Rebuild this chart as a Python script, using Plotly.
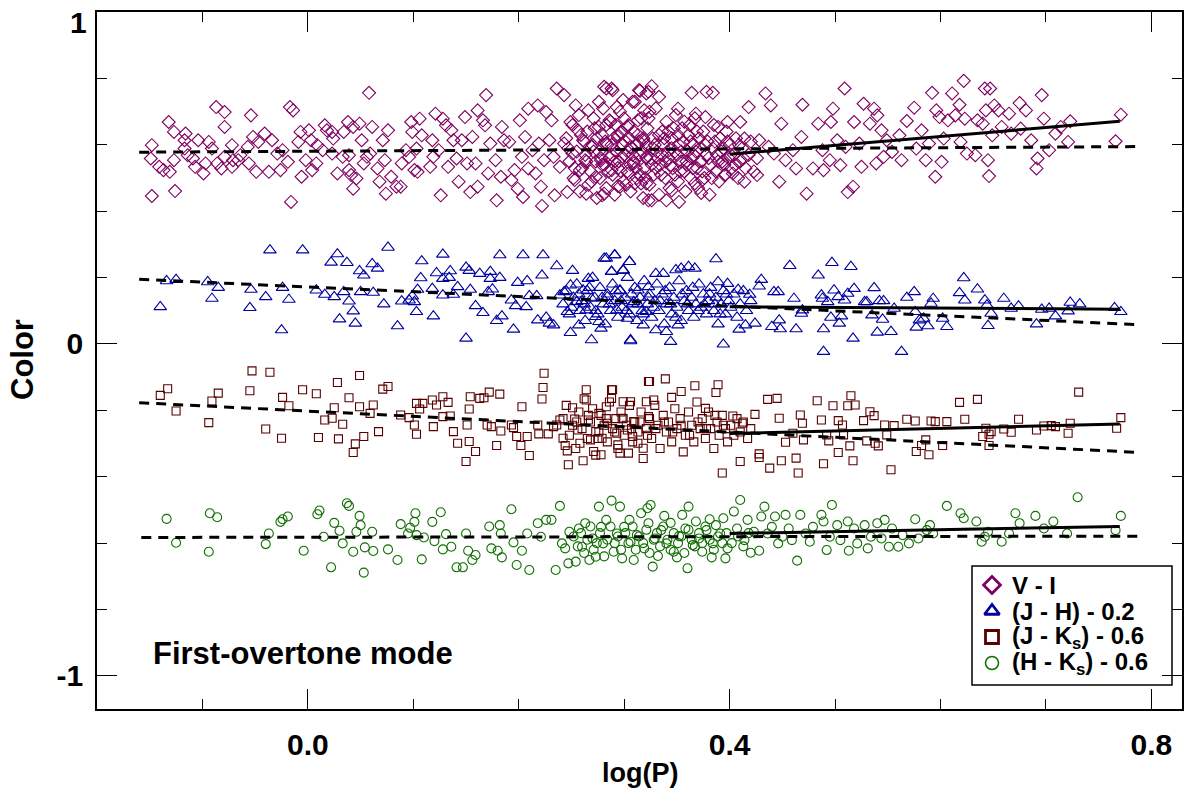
import plotly.graph_objects as go

# ---------------- data (log P, colour) ----------------
VI_PTS = [
(-0.148,0.599),(-0.149,0.559),(-0.148,0.446),(-0.141,0.534),(-0.137,0.524),(-0.132,0.669),(-0.131,0.519),(-0.127,0.639),(-0.126,0.461),(-0.127,0.554),
(-0.117,0.614),(-0.116,0.634),(-0.117,0.589),(-0.114,0.569),(-0.109,0.559),(-0.107,0.534),(-0.104,0.614),(-0.099,0.514),(-0.097,0.544),(-0.094,0.609),
(-0.091,0.589),(-0.087,0.714),(-0.086,0.544),(-0.082,0.529),(-0.079,0.699),(-0.079,0.654),(-0.079,0.564),(-0.072,0.599),(-0.072,0.534),(-0.071,0.554),
(-0.066,0.554),(-0.064,0.569),(-0.057,0.594),(-0.056,0.544),(-0.054,0.689),(-0.052,0.624),(-0.049,0.519),(-0.047,0.609),(-0.041,0.634),(-0.037,0.519),
(-0.034,0.614),(-0.029,0.574),(-0.026,0.524),(-0.024,0.584),(-0.019,0.549),(-0.017,0.714),(-0.016,0.428),(-0.014,0.704),(-0.009,0.609),(-0.007,0.639),
(-0.006,0.504),(-0.002,0.554),(0.001,0.644),(0.003,0.614),(0.004,0.524),(0.008,0.544),(0.009,0.599),(0.014,0.584),(0.016,0.659),(0.018,0.644),
(0.023,0.639),(0.023,0.574),(0.024,0.619),(0.028,0.514),(0.033,0.564),(0.034,0.639),(0.038,0.669),(0.039,0.569),(0.039,0.524),(0.041,0.509),
(0.043,0.468),(0.043,0.654),(0.046,0.499),(0.049,0.664),(0.051,0.614),(0.053,0.544),(0.056,0.564),(0.058,0.757),(0.059,0.574),(0.061,0.654),
(0.066,0.529),(0.068,0.489),(0.071,0.614),(0.073,0.554),(0.074,0.453),(0.076,0.644),(0.079,0.504),(0.084,0.474),(0.088,0.474),(0.089,0.544),
(0.093,0.584),(0.096,0.564),(0.098,0.669),(0.099,0.639),(0.101,0.524),(0.103,0.589),(0.104,0.519),(0.106,0.679),(0.108,0.629),(0.116,0.534),
(0.118,0.614),(0.119,0.564),(0.121,0.694),(0.124,0.584),(0.126,0.448),(0.128,0.679),(0.131,0.659),(0.133,0.534),(0.136,0.644),(0.138,0.614),
(0.141,0.559),(0.143,0.489),(0.146,0.614),(0.149,0.684),(0.151,0.544),(0.154,0.458),(0.156,0.624),(0.159,0.544),(0.161,0.704),(0.161,0.474),
(0.166,0.674),(0.168,0.659),(0.169,0.750),(0.171,0.514),(0.173,0.604),(0.178,0.554),(0.179,0.433),(0.183,0.504),(0.184,0.654),(0.186,0.614),
(0.191,0.609),(0.193,0.494),(0.196,0.524),(0.199,0.468),(0.201,0.674),(0.203,0.564),(0.204,0.443),(0.206,0.624),(0.209,0.709),(0.209,0.529),
(0.213,0.584),(0.216,0.514),(0.218,0.719),(0.219,0.604),(0.221,0.474),(0.222,0.416),(0.224,0.554),(0.226,0.699),(0.229,0.614),(0.231,0.674),
(0.233,0.564),(0.234,0.448),(0.236,0.770),(0.239,0.534),(0.243,0.750),(0.243,0.604),(0.246,0.458),(0.249,0.669),(0.251,0.574),(0.253,0.494),
(0.254,0.719),(0.256,0.644),(0.258,0.524),(0.261,0.614),(0.263,0.554),(0.264,0.453),(0.266,0.704),(0.269,0.594),(0.273,0.504),(0.276,0.730),
(0.276,0.654),(0.278,0.554),(0.279,0.448),(0.283,0.770),(0.283,0.604),(0.286,0.674),(0.288,0.524),(0.289,0.765),(0.293,0.714),(0.294,0.624),
(0.296,0.474),(0.298,0.564),(0.299,0.735),(0.303,0.654),(0.304,0.514),(0.306,0.594),(0.308,0.730),(0.309,0.544),(0.313,0.674),(0.314,0.765),
(0.316,0.484),(0.318,0.614),(0.319,0.704),(0.321,0.564),(0.323,0.760),(0.323,0.433),
(0.418,0.714),(0.434,0.755),(0.439,0.719),(0.449,0.664),(0.447,0.489),(0.428,0.614),(0.437,0.594),(0.442,0.574),(0.453,0.554),(0.460,0.584),
(0.463,0.529),(0.468,0.624),(0.469,0.721),(0.473,0.453),(0.479,0.529),(0.484,0.664),(0.488,0.584),(0.489,0.524),(0.495,0.554),(0.496,0.669),
(0.498,0.709),(0.502,0.614),(0.505,0.539),(0.509,0.770),(0.510,0.594),(0.512,0.458),(0.517,0.474),(0.518,0.669),(0.523,0.604),(0.525,0.534),
(0.527,0.724),(0.533,0.664),(0.537,0.709),(0.539,0.544),(0.540,0.689),(0.544,0.644),(0.546,0.564),(0.549,0.614),(0.554,0.579),(0.561,0.629),
(0.563,0.554),(0.568,0.672),(0.575,0.712),(0.577,0.589),(0.582,0.644),(0.586,0.554),(0.589,0.604),(0.592,0.757),(0.595,0.504),(0.596,0.704),
(0.599,0.684),(0.601,0.549),(0.603,0.619),(0.607,0.674),(0.611,0.755),(0.614,0.689),(0.618,0.721),(0.619,0.609),(0.622,0.793),(0.623,0.679),
(0.625,0.574),(0.633,0.569),(0.635,0.674),(0.640,0.664),(0.642,0.770),(0.643,0.704),(0.645,0.554),(0.646,0.506),(0.647,0.770),(0.649,0.629),
(0.651,0.719),(0.655,0.704),(0.658,0.654),(0.665,0.694),(0.667,0.634),(0.675,0.726),(0.676,0.649),(0.681,0.704),(0.686,0.614),(0.691,0.529),
(0.692,0.559),(0.696,0.750),(0.698,0.679),(0.703,0.584),(0.709,0.634),(0.714,0.654),(0.721,0.609),(0.723,0.671),(0.766,0.611),(0.771,0.691),
(0.326,0.433),(0.340,0.433),(0.352,0.428),(0.345,0.463),(0.373,0.455),(0.364,0.757),(0.378,0.760),(0.384,0.757),(0.315,0.763),(0.326,0.777),
(0.288,0.770),(0.281,0.775),(0.321,0.755),(0.333,0.745),(0.351,0.709),(0.368,0.694),(0.377,0.684),(0.389,0.654),(0.398,0.669),(0.410,0.669),
(0.414,0.619),(0.403,0.514),(0.414,0.489),(0.426,0.509),(0.395,0.509),(0.374,0.494),(0.367,0.484),(0.294,0.476),(0.281,0.453),(0.310,0.484),
(0.321,0.484),
(0.245,0.62),(0.248,0.55),(0.251,0.66),(0.252,0.5),(0.255,0.58),(0.257,0.69),(0.258,0.46),(0.26,0.53),(0.262,0.61),(0.263,0.57),
(0.265,0.64),(0.266,0.48),(0.268,0.52),(0.27,0.6),(0.271,0.68),(0.273,0.55),(0.274,0.44),(0.276,0.58),(0.277,0.5),(0.279,0.63),
(0.28,0.71),(0.281,0.54),(0.283,0.47),(0.284,0.6),(0.286,0.56),(0.287,0.67),(0.289,0.51),(0.29,0.62),(0.291,0.45),(0.293,0.58),
(0.294,0.53),(0.296,0.7),(0.297,0.64),(0.299,0.49),(0.3,0.57),(0.301,0.61),(0.303,0.52),(0.304,0.66),(0.306,0.46),(0.307,0.59),
(0.309,0.55),(0.31,0.73),(0.312,0.5),(0.313,0.63),(0.315,0.57),(0.316,0.68),(0.318,0.44),(0.319,0.53),(0.321,0.6),(0.322,0.65),
(0.324,0.48),(0.325,0.56),(0.327,0.62),(0.328,0.51),(0.33,0.71),(0.331,0.58),(0.333,0.45),(0.334,0.54),(0.336,0.64),(0.337,0.6),
(0.339,0.5),(0.34,0.67),(0.342,0.56),(0.343,0.47),(0.345,0.62),(0.346,0.53),(0.348,0.58),(0.349,0.69),(0.351,0.49),(0.352,0.6),
(0.354,0.55),(0.355,0.65),(0.357,0.52),(0.358,0.46),(0.36,0.58),(0.361,0.63),(0.363,0.5),(0.364,0.56),(0.366,0.6),(0.367,0.68),
(0.369,0.53),(0.37,0.47),(0.372,0.59),(0.373,0.55),(0.375,0.64),(0.376,0.5),(0.378,0.57),(0.379,0.61),(0.381,0.45),(0.382,0.54),
(0.384,0.59),(0.385,0.66),(0.387,0.52),(0.388,0.57),(0.39,0.49),(0.391,0.62),(0.393,0.55),(0.394,0.59),(0.396,0.51),(0.397,0.64),
(0.399,0.56),(0.4,0.6),(0.402,0.53),(0.404,0.57),(0.406,0.62),(0.408,0.5),(0.41,0.55),(0.412,0.59),(0.415,0.53),(0.418,0.57),
(0.42,0.61),(0.423,0.52),(0.426,0.56),
(0.247,0.59),(0.253,0.53),(0.259,0.63),(0.264,0.55),(0.269,0.49),(0.272,0.65),(0.278,0.56),(0.282,0.61),(0.285,0.52),(0.288,0.57),
(0.292,0.66),(0.295,0.55),(0.298,0.6),(0.302,0.48),(0.305,0.62),(0.308,0.57),(0.311,0.53),(0.314,0.61),(0.317,0.58),(0.32,0.5),
(0.323,0.68),(0.326,0.54),(0.329,0.6),(0.332,0.56),(0.335,0.51),(0.338,0.62),(0.341,0.58),(0.344,0.54),(0.347,0.65),(0.35,0.57),
(0.353,0.52),(0.356,0.61),(0.359,0.55),(0.362,0.66),(0.365,0.53),(0.368,0.58),(0.371,0.62),(0.374,0.52),(0.377,0.6),(0.38,0.56),
(0.383,0.5),(0.386,0.61),(0.389,0.55),(0.392,0.58),(0.395,0.54),(0.398,0.61),(0.401,0.57),(0.405,0.54),(0.409,0.6),(0.413,0.56),
(0.271,0.58),(0.274,0.62),(0.279,0.54),(0.283,0.66),(0.288,0.6),(0.291,0.55),(0.294,0.63),(0.297,0.52),(0.3,0.68),(0.303,0.58),
(0.306,0.54),(0.309,0.64),(0.312,0.6),(0.315,0.51),(0.318,0.62),(0.321,0.56),(0.324,0.7),(0.327,0.59),(0.33,0.53),(0.333,0.63),
(0.336,0.57),(0.339,0.55),(0.342,0.64),(0.345,0.59),(0.348,0.51),(0.351,0.63),(0.354,0.58),(0.357,0.67),(0.36,0.54),(0.363,0.61),
(0.366,0.57),(0.369,0.64),
]

JH_PTS = [
(-0.14,0.112),(-0.134,0.19),(-0.125,0.194),(-0.095,0.187),(-0.091,0.137),(-0.085,0.17),(-0.055,0.109),(-0.054,0.164),(-0.04,0.142),(-0.036,0.283),
(-0.025,0.042),(-0.024,0.17),(-0.018,0.134),(-0.005,0.283),(0.008,0.162),(0.016,0.149),(0.022,0.246),(0.025,0.142),(0.028,0.271),(0.03,0.075),
(0.034,0.157),(0.037,0.245),(0.039,0.129),(0.043,0.099),(0.045,0.062),(0.049,0.22),(0.05,0.157),(0.053,0.207),(0.061,0.241),(0.062,0.155),
(0.066,0.228),(0.072,0.12),(0.076,0.291),(0.085,0.054),(0.089,0.129),(0.096,0.132),(0.099,0.144),(0.101,0.127),(0.103,0.097),(0.104,0.164),
(0.107,0.199),(0.108,0.25),(0.118,0.167),(0.119,0.084),(0.122,0.214),(0.128,0.27),(0.128,0.197),(0.128,0.147),(0.134,0.2),(0.135,0.22),
(0.138,0.149),(0.142,0.172),(0.15,0.231),(0.15,0.017),(0.153,0.221),(0.154,0.164),(0.159,0.115),(0.163,0.212),(0.166,0.094),(0.171,0.157),
(0.173,0.218),(0.173,0.197),(0.175,0.165),(0.179,0.07),(0.182,0.268),(0.182,0.2),(0.184,0.084),(0.193,0.132),(0.195,0.044),(0.197,0.115),
(0.199,0.185),(0.204,0.268),(0.207,0.112),(0.208,0.19),(0.21,0.145),(0.217,0.145),(0.218,0.072),(0.222,0.207),(0.223,0.268),(0.226,0.08),
(0.229,0.062),(0.233,0.057),(0.236,0.235),(0.239,0.147),(0.243,0.157),(0.246,0.097),(0.249,0.034),(0.249,0.177),(0.251,0.221),(0.255,0.127),
(0.257,0.057),(0.261,0.162),(0.264,0.102),(0.266,0.197),(0.269,0.012),(0.269,0.137),(0.273,0.082),(0.276,0.067),(0.278,0.047),(0.283,0.258),
(0.284,0.142),(0.288,0.218),(0.291,0.268),(0.293,0.102),(0.296,0.162),(0.299,0.223),(0.303,0.077),(0.305,0.248),(0.306,0.012),(0.309,0.127),
(0.313,0.162),(0.318,0.057),(0.321,0.097),(0.323,0.172),
(0.281,0.258),(0.291,0.268),(0.305,0.248),(0.288,0.218),(0.299,0.221),(0.306,0.009),(0.344,0.007),(0.394,-0.001),(0.387,0.256),(0.33,0.212),
(0.337,0.212),(0.349,0.223),(0.354,0.228),(0.361,0.233),(0.367,0.228),(0.34,0.037),(0.33,0.042),(0.351,0.057),(0.389,0.187),(0.398,0.182),
(0.408,0.164),(0.419,0.149),(0.428,0.174),(0.43,0.194),(0.442,0.157),(0.446,0.157),(0.409,0.044),(0.415,0.057),(0.424,0.062),(0.44,0.052),
(0.448,0.045),(0.447,0.072),(0.457,0.236),(0.461,0.137),(0.463,0.045),(0.468,0.092),(0.469,0.102),(0.484,0.207),(0.487,0.147),(0.488,0.137),
(0.489,0.045),(0.489,-0.023),(0.493,0.127),(0.496,0.08),(0.497,0.245),(0.499,0.162),(0.503,0.142),(0.504,0.062),(0.506,0.084),(0.509,0.132),
(0.512,0.152),(0.515,0.233),(0.517,0.017),(0.518,0.167),(0.528,0.127),(0.53,0.127),(0.535,0.087),(0.537,0.169),(0.54,0.035),(0.542,0.13),
(0.545,0.074),(0.546,0.13),(0.553,0.037),(0.556,0.107),(0.563,-0.023),(0.568,0.14),(0.575,0.157),(0.576,0.097),(0.577,0.05),(0.58,0.072),
(0.584,0.077),(0.588,0.054),(0.591,0.122),(0.593,0.137),(0.602,0.077),(0.606,0.052),(0.618,0.154),(0.622,0.199),(0.623,0.132),(0.635,0.165),
(0.642,0.132),(0.644,0.117),(0.645,0.055),(0.648,0.092),(0.66,0.137),(0.667,0.107),(0.674,0.114),(0.691,0.06),(0.696,0.104),(0.703,0.107),
(0.709,0.084),(0.721,0.099),(0.723,0.125),(0.732,0.12),(0.765,0.109),(0.771,0.097),
(0.242,0.12),(0.245,0.16),(0.248,0.09),(0.252,0.14),(0.255,0.18),(0.258,0.1),(0.26,0.13),(0.263,0.07),(0.265,0.16),(0.268,0.11),
(0.27,0.2),(0.272,0.14),(0.275,0.09),(0.277,0.17),(0.28,0.12),(0.282,0.06),(0.284,0.15),(0.287,0.1),(0.289,0.18),(0.291,0.13),
(0.294,0.08),(0.296,0.16),(0.298,0.11),(0.301,0.14),(0.303,0.2),(0.305,0.09),(0.308,0.12),(0.31,0.17),(0.312,0.07),(0.315,0.14),
(0.317,0.1),(0.319,0.19),(0.322,0.12),(0.324,0.15),(0.326,0.08),(0.329,0.13),(0.331,0.18),(0.333,0.1),(0.336,0.15),(0.338,0.06),
(0.34,0.12),(0.343,0.17),(0.345,0.09),(0.347,0.14),(0.35,0.11),(0.352,0.19),(0.354,0.07),(0.357,0.13),(0.359,0.16),(0.361,0.1),
(0.364,0.14),(0.366,0.08),(0.368,0.12),(0.371,0.18),(0.373,0.11),(0.375,0.15),(0.378,0.09),(0.38,0.13),(0.382,0.17),(0.385,0.1),
(0.387,0.14),(0.389,0.06),(0.392,0.12),(0.394,0.16),(0.396,0.09),(0.399,0.13),(0.401,0.11),(0.404,0.15),(0.407,0.08),(0.41,0.12),
(0.413,0.16),(0.416,0.1),(0.42,0.13),
(0.25,0.11),(0.257,0.15),(0.262,0.12),(0.267,0.17),(0.273,0.1),(0.279,0.14),(0.286,0.12),(0.292,0.16),(0.297,0.13),(0.302,0.1),
(0.307,0.15),(0.313,0.12),(0.318,0.09),(0.323,0.14),(0.328,0.11),(0.334,0.13),(0.339,0.16),(0.344,0.12),(0.349,0.08),(0.355,0.15),
(0.36,0.12),(0.365,0.17),(0.37,0.1),(0.376,0.12),(0.381,0.15),(0.386,0.12),(0.391,0.09),(0.397,0.15),
]

JK_PTS = [
(-0.14,-0.155),(-0.133,-0.135),(-0.125,-0.202),(-0.094,-0.237),(-0.091,-0.172),(-0.085,-0.148),(-0.055,-0.141),(-0.053,-0.081),(-0.04,-0.256),(-0.036,-0.085),
(-0.025,-0.284),(-0.024,-0.161),(-0.018,-0.186),(-0.005,-0.138),(0.008,-0.15),(0.01,-0.282),(0.016,-0.229),(0.023,-0.224),(0.025,-0.192),(0.028,-0.116),
(0.029,-0.286),(0.033,-0.242),(0.039,-0.162),(0.043,-0.327),(0.045,-0.301),(0.049,-0.095),(0.049,-0.189),(0.053,-0.279),(0.059,-0.209),(0.062,-0.184),
(0.067,-0.264),(0.071,-0.136),(0.076,-0.128),(0.088,-0.214),(0.096,-0.222),(0.101,-0.244),(0.103,-0.179),(0.103,-0.272),(0.106,-0.196),(0.109,-0.179),
(0.118,-0.169),(0.119,-0.249),(0.122,-0.184),(0.128,-0.159),(0.128,-0.219),(0.133,-0.176),(0.135,-0.217),(0.138,-0.264),(0.142,-0.299),(0.15,-0.354),
(0.151,-0.244),(0.153,-0.196),(0.153,-0.294),(0.154,-0.159),(0.159,-0.324),(0.163,-0.164),(0.167,-0.162),(0.17,-0.244),(0.172,-0.145),(0.174,-0.249),
(0.179,-0.306),(0.182,-0.151),(0.183,-0.262),(0.193,-0.244),(0.195,-0.252),(0.198,-0.279),(0.202,-0.306),(0.203,-0.189),(0.208,-0.279),(0.21,-0.336),
(0.218,-0.244),(0.219,-0.271),(0.222,-0.166),(0.223,-0.131),(0.224,-0.088),(0.228,-0.271),(0.233,-0.249),(0.236,-0.244),(0.239,-0.229),(0.242,-0.284),
(0.244,-0.306),(0.246,-0.322),(0.247,-0.364),(0.251,-0.192),(0.253,-0.226),(0.256,-0.259),(0.258,-0.299),(0.261,-0.352),(0.264,-0.138),(0.264,-0.169),
(0.266,-0.229),(0.268,-0.289),(0.271,-0.324),(0.273,-0.264),(0.276,-0.209),(0.278,-0.334),(0.279,-0.284),(0.283,-0.189),(0.284,-0.239),(0.288,-0.164),
(0.289,-0.138),(0.293,-0.269),(0.294,-0.304),(0.296,-0.329),(0.298,-0.224),(0.299,-0.174),(0.303,-0.259),(0.304,-0.329),(0.306,-0.174),(0.308,-0.279),
(0.309,-0.234),(0.313,-0.299),(0.318,-0.314),(0.321,-0.174),(0.323,-0.113),(0.323,-0.219),
(0.288,-0.138),(0.324,-0.113),(0.339,-0.105),(0.354,-0.143),(0.367,-0.126),(0.389,-0.123),(0.387,-0.146),(0.345,-0.161),(0.328,-0.169),(0.377,-0.194),
(0.393,-0.389),(0.41,-0.354),(0.403,-0.217),(0.412,-0.239),(0.424,-0.212),(0.428,-0.331),(0.428,-0.342),(0.436,-0.167),(0.438,-0.374),(0.445,-0.164),
(0.447,-0.224),(0.449,-0.352),(0.453,-0.296),(0.46,-0.269),(0.463,-0.344),(0.465,-0.389),(0.467,-0.214),(0.469,-0.239),(0.47,-0.289),(0.483,-0.171),
(0.487,-0.229),(0.489,-0.361),(0.492,-0.274),(0.494,-0.292),(0.498,-0.186),(0.503,-0.231),(0.503,-0.327),(0.507,-0.244),(0.508,-0.274),(0.512,-0.186),
(0.514,-0.307),(0.515,-0.156),(0.517,-0.352),(0.519,-0.184),(0.527,-0.231),(0.53,-0.292),(0.533,-0.204),(0.537,-0.216),(0.538,-0.299),(0.541,-0.307),
(0.547,-0.244),(0.549,-0.274),(0.553,-0.379),(0.556,-0.246),(0.568,-0.227),(0.576,-0.232),(0.577,-0.324),(0.582,-0.306),(0.586,-0.289),(0.589,-0.334),
(0.591,-0.232),(0.595,-0.234),(0.602,-0.306),(0.606,-0.234),(0.618,-0.176),(0.623,-0.227),(0.635,-0.167),(0.64,-0.279),(0.643,-0.254),(0.646,-0.272),
(0.646,-0.306),(0.648,-0.264),(0.66,-0.256),(0.667,-0.266),(0.674,-0.227),(0.691,-0.259),(0.698,-0.247),(0.705,-0.246),(0.709,-0.249),(0.721,-0.269),
(0.723,-0.239),(0.731,-0.145),(0.767,-0.254),(0.771,-0.222),
(0.242,-0.225),(0.245,-0.185),(0.248,-0.275),(0.251,-0.245),(0.254,-0.315),(0.257,-0.205),(0.26,-0.255),(0.262,-0.165),(0.265,-0.285),(0.268,-0.235),
(0.27,-0.195),(0.273,-0.335),(0.276,-0.265),(0.278,-0.215),(0.281,-0.245),(0.284,-0.295),(0.286,-0.175),(0.289,-0.255),(0.292,-0.225),(0.294,-0.315),
(0.297,-0.205),(0.3,-0.275),(0.302,-0.245),(0.305,-0.185),(0.308,-0.295),(0.31,-0.235),(0.313,-0.265),(0.316,-0.205),(0.318,-0.345),(0.321,-0.255),
(0.324,-0.225),(0.326,-0.285),(0.329,-0.185),(0.332,-0.245),(0.334,-0.315),(0.337,-0.215),(0.34,-0.265),(0.342,-0.235),(0.345,-0.295),(0.348,-0.195),
(0.35,-0.255),(0.353,-0.225),(0.356,-0.325),(0.358,-0.275),(0.361,-0.205),(0.364,-0.245),(0.366,-0.295),(0.369,-0.175),(0.372,-0.255),(0.374,-0.225),
(0.377,-0.285),(0.38,-0.205),(0.382,-0.255),(0.385,-0.315),(0.388,-0.235),(0.39,-0.275),(0.393,-0.215),(0.396,-0.255),(0.398,-0.295),(0.401,-0.245),
(0.404,-0.275),(0.407,-0.225),(0.41,-0.265),(0.413,-0.235),(0.417,-0.285),(0.42,-0.255),
(0.255,-0.235),(0.266,-0.215),(0.275,-0.285),(0.283,-0.225),(0.291,-0.265),(0.299,-0.225),(0.307,-0.255),(0.315,-0.235),(0.322,-0.275),(0.33,-0.255),
(0.338,-0.235),(0.346,-0.265),(0.354,-0.245),(0.362,-0.275),(0.37,-0.235),(0.378,-0.255),(0.386,-0.215),(0.394,-0.245),
]

HK_PTS = [
(-0.134,-0.527),(-0.125,-0.599),(-0.093,-0.51),(-0.086,-0.522),(-0.094,-0.626),(-0.04,-0.603),(-0.037,-0.571),(-0.026,-0.536),(-0.024,-0.528),(-0.019,-0.52),
(-0.004,-0.623),(0.009,-0.513),(0.011,-0.502),(0.015,-0.581),(0.022,-0.673),(0.025,-0.539),(0.03,-0.563),(0.033,-0.601),(0.037,-0.48),(0.039,-0.488),
(0.043,-0.626),(0.046,-0.566),(0.049,-0.518),(0.05,-0.546),(0.053,-0.689),(0.054,-0.613),(0.061,-0.566),(0.062,-0.624),(0.076,-0.619),(0.085,-0.651),
(0.088,-0.543),(0.095,-0.571),(0.097,-0.554),(0.101,-0.536),(0.102,-0.51),(0.103,-0.576),(0.108,-0.649),(0.11,-0.583),(0.118,-0.536),(0.12,-0.594),
(0.126,-0.507),(0.128,-0.619),(0.131,-0.573),(0.136,-0.611),(0.141,-0.673),(0.147,-0.673),(0.15,-0.571),(0.152,-0.623),(0.156,-0.651),(0.159,-0.636),
(0.172,-0.55),(0.174,-0.616),(0.18,-0.623),(0.182,-0.546),(0.183,-0.571),(0.184,-0.643),(0.193,-0.498),(0.195,-0.598),(0.198,-0.666),(0.203,-0.623),
(0.208,-0.571),(0.21,-0.681),(0.218,-0.54),(0.221,-0.581),(0.226,-0.53),(0.231,-0.53),(0.235,-0.681),(0.239,-0.488),(0.241,-0.601),(0.244,-0.616),
(0.247,-0.661),(0.248,-0.566),(0.254,-0.656),(0.257,-0.556),(0.26,-0.611),(0.263,-0.54),(0.267,-0.651),(0.27,-0.586),(0.273,-0.641),(0.276,-0.49),
(0.278,-0.551),(0.28,-0.601),(0.283,-0.53),(0.288,-0.472),(0.29,-0.626),(0.293,-0.571),(0.296,-0.49),(0.298,-0.646),(0.3,-0.551),(0.305,-0.53),
(0.306,-0.596),(0.309,-0.651),(0.312,-0.576),(0.316,-0.51),(0.319,-0.616),(0.322,-0.495),(0.323,-0.54),(0.325,-0.485),(0.327,-0.671),(0.329,-0.586),
(0.332,-0.639),(0.335,-0.561),(0.338,-0.518),(0.34,-0.601),(0.344,-0.539),(0.347,-0.626),(0.35,-0.643),(0.352,-0.579),(0.355,-0.515),(0.358,-0.556),
(0.36,-0.676),(0.361,-0.49),(0.365,-0.606),(0.368,-0.535),(0.371,-0.586),(0.374,-0.626),(0.378,-0.561),(0.381,-0.528),(0.383,-0.643),(0.384,-0.601),
(0.387,-0.546),(0.391,-0.571),(0.394,-0.525),(0.396,-0.646),(0.398,-0.616),(0.404,-0.505),(0.407,-0.556),(0.41,-0.47),(0.414,-0.591),(0.417,-0.53),
(0.42,-0.629),(0.423,-0.566),(0.428,-0.623),(0.43,-0.52),(0.433,-0.49),(0.436,-0.571),(0.44,-0.551),(0.443,-0.52),(0.446,-0.601),(0.45,-0.581),
(0.453,-0.515),(0.456,-0.556),(0.459,-0.591),(0.464,-0.653),(0.467,-0.515),(0.472,-0.571),(0.476,-0.596),(0.479,-0.551),(0.487,-0.515),(0.489,-0.535),
(0.492,-0.621),(0.495,-0.581),(0.497,-0.485),(0.502,-0.546),(0.505,-0.591),(0.512,-0.535),(0.513,-0.623),(0.518,-0.556),(0.521,-0.601),(0.528,-0.546),
(0.531,-0.616),(0.534,-0.581),(0.54,-0.54),(0.544,-0.586),(0.547,-0.53),(0.551,-0.611),(0.554,-0.556),(0.56,-0.611),(0.564,-0.576),(0.57,-0.601),
(0.576,-0.528),(0.579,-0.586),(0.587,-0.561),(0.59,-0.546),(0.593,-0.571),(0.606,-0.488),(0.619,-0.51),(0.622,-0.525),(0.634,-0.535),(0.639,-0.596),
(0.642,-0.581),(0.645,-0.566),(0.658,-0.596),(0.665,-0.571),(0.671,-0.51),(0.675,-0.54),(0.69,-0.518),(0.698,-0.556),(0.707,-0.535),(0.72,-0.571),
(0.73,-0.462),(0.766,-0.561),(0.771,-0.518),
(0.252,-0.58),(0.256,-0.61),(0.259,-0.57),(0.262,-0.63),(0.265,-0.59),(0.268,-0.55),(0.271,-0.62),(0.274,-0.6),(0.277,-0.57),(0.281,-0.64),
(0.284,-0.59),(0.287,-0.55),(0.291,-0.6),(0.294,-0.58),(0.297,-0.62),(0.301,-0.57),(0.304,-0.6),(0.308,-0.55),(0.311,-0.62),(0.314,-0.58),
(0.318,-0.6),(0.321,-0.56),(0.324,-0.63),(0.328,-0.59),(0.331,-0.57),(0.334,-0.61),(0.337,-0.55),(0.341,-0.59),(0.344,-0.62),(0.347,-0.57),
(0.351,-0.6),(0.354,-0.58),(0.357,-0.63),(0.361,-0.56),(0.364,-0.59),(0.367,-0.61),(0.371,-0.57),(0.374,-0.6),(0.377,-0.55),(0.381,-0.59),
(0.385,-0.62),(0.389,-0.58),(0.393,-0.6),(0.397,-0.57),(0.402,-0.6),(0.408,-0.58),(0.413,-0.61),(0.418,-0.57),
]

# fitted relations: dashed = whole range, solid = log P > 0.4
VI_DASH_X, VI_DASH_Y = [-0.16, 0.79], [0.578, 0.595]
VI_SOLID_X, VI_SOLID_Y = [0.40, 0.77], [0.572, 0.671]
JH_DASH_X, JH_DASH_Y = [-0.16, 0.79], [0.195, 0.058]
JH_SOLID_X, JH_SOLID_Y = [0.40, 0.77], [0.112, 0.105]
JK_DASH_X, JK_DASH_Y = [-0.16, 0.79], [-0.177, -0.327]
JK_SOLID_X, JK_SOLID_Y = [0.40, 0.77], [-0.270, -0.241]
HK_DASH_X, HK_DASH_Y = [-0.158, 0.792], [-0.583, -0.579]
HK_SOLID_X, HK_SOLID_Y = [0.40, 0.77], [-0.571, -0.550]

SERIES_NAMES = ["V - I", "(J - H) - 0.2", "(J - K<sub>s</sub>) - 0.6", "(H - K<sub>s</sub>) - 0.6"]
X_TICKS = [0.0, 0.4, 0.8]
X_TICKTEXT = ["0.0", "0.4", "0.8"]
Y_TICKS = [-1, 0, 1]
Y_TICKTEXT = ["-1", "0", ""]
Y_TOP_LABEL = "1"

FONT = "Liberation Sans, Arial, Helvetica, sans-serif"

# plot-area pixel geometry (1196 x 793 canvas)
L, R, T, B = 97, 1182, 12, 709
W, H = 1196, 793

fig = go.Figure()

styles = [
    (VI_PTS, "diamond-open", "#800060", 10),
    (JH_PTS, "triangle-up-open", "#0000a0", 11),
    (JK_PTS, "square-open", "#5a0000", 8),
    (HK_PTS, "circle-open", "#106e00", 9),
]
for name, (pts, sym, col, size) in zip(SERIES_NAMES, styles):
    fig.add_trace(go.Scatter(
        x=[p[0] for p in pts], y=[p[1] for p in pts], mode="markers", name=name,
        showlegend=False,
        marker=dict(symbol=sym, size=size, color=col, line=dict(width=1.1, color=col)),
    ))

fits = [
    (VI_DASH_X, VI_DASH_Y, VI_SOLID_X, VI_SOLID_Y),
    (JH_DASH_X, JH_DASH_Y, JH_SOLID_X, JH_SOLID_Y),
    (JK_DASH_X, JK_DASH_Y, JK_SOLID_X, JK_SOLID_Y),
    (HK_DASH_X, HK_DASH_Y, HK_SOLID_X, HK_SOLID_Y),
]
for dx, dy, sx, sy in fits:
    fig.add_trace(go.Scatter(x=dx, y=dy, mode="lines", showlegend=False, hoverinfo="skip",
                             line=dict(color="black", width=3, dash="10px,7px")))
    fig.add_trace(go.Scatter(x=sx, y=sy, mode="lines", showlegend=False, hoverinfo="skip",
                             line=dict(color="black", width=3)))

# ---- legend drawn as a box with symbols (on a hidden 0..1 overlay axis) and text
LEG_LEFT, LEG_RIGHT, LEG_TOP, LEG_BOTTOM = 972, 1172, 566, 685
LEG_ROWS = [585, 611, 637, 663]
LEG_SYM_X = 992
LEG_TEXT_X = 1010

def fx(px):
    return (px - L) / (R - L)

def fy(py):
    return (B - py) / (B - T)

for (pts, sym, col, size), ypx in zip(styles, LEG_ROWS):
    thick = 1.5 if sym == "circle-open" else 2.8
    fig.add_trace(go.Scatter(
        x=[fx(LEG_SYM_X)], y=[fy(ypx)], xaxis="x2", yaxis="y2", mode="markers",
        showlegend=False, hoverinfo="skip",
        marker=dict(symbol=sym, size=13, color=col, line=dict(width=thick, color=col))))

shapes = [dict(type="rect", xref="paper", yref="paper",
               x0=fx(LEG_LEFT), x1=fx(LEG_RIGHT), y0=fy(LEG_BOTTOM), y1=fy(LEG_TOP),
               line=dict(color="black", width=1.5), fillcolor="white", layer="below")]

annotations = []
for name, ypx in zip(SERIES_NAMES, LEG_ROWS):
    annotations.append(dict(text=name, xref="paper", yref="paper", x=fx(LEG_TEXT_X), y=fy(ypx),
                            xanchor="left", yanchor="middle", showarrow=False,
                            font=dict(family=FONT, size=24, color="black", weight="bold")))

annotations += [
    dict(text="First-overtone mode", xref="paper", yref="paper", x=fx(151), y=fy(653),
         xanchor="left", yanchor="middle", showarrow=False,
         font=dict(family=FONT, size=31, color="black", weight="bold")),
    dict(text="Color", xref="paper", yref="paper", x=fx(22), y=fy(360), textangle=-90,
         xanchor="center", yanchor="middle", showarrow=False,
         font=dict(family=FONT, size=31, color="black", weight="bold")),
    dict(text="log(P)", xref="paper", yref="paper", x=fx(640), y=fy(773),
         xanchor="center", yanchor="middle", showarrow=False,
         font=dict(family=FONT, size=27, color="black", weight="bold")),
    dict(text=Y_TOP_LABEL, xref="paper", yref="paper", x=fx(89), y=fy(22),
         xanchor="right", yanchor="middle", showarrow=False,
         font=dict(family=FONT, size=30, color="black", weight="bold")),
]

tickfont = dict(family=FONT, size=30, color="black", weight="bold")
common = dict(showline=True, linecolor="black", linewidth=1.5, mirror="allticks",
              ticks="inside", ticklen=20, tickwidth=1.2, tickcolor="black",
              showgrid=False, zeroline=False, tickfont=tickfont, tickmode="array",
              automargin=False)

fig.update_xaxes(range=[-0.2, 0.829], tickvals=X_TICKS, ticktext=X_TICKTEXT, ticklabelstandoff=8,
                 minor=dict(ticks="inside", ticklen=10, tickwidth=1, tickcolor="black",
                            tickmode="linear", tick0=0, dtick=0.1, showgrid=False), **common)
fig.update_yaxes(range=[-1.1, 1.0005], tickvals=Y_TICKS, ticktext=Y_TICKTEXT, ticklabelstandoff=6,
                 minor=dict(ticks="inside", ticklen=10, tickwidth=1, tickcolor="black",
                            tickmode="linear", tick0=0, dtick=0.2, showgrid=False), **common)

fig.update_layout(
    width=W, height=H,
    margin=dict(l=L, r=W - R, t=T, b=H - B, autoexpand=False),
    paper_bgcolor="white", plot_bgcolor="white",
    showlegend=False,
    xaxis2=dict(overlaying="x", range=[0, 1], visible=False, fixedrange=True, automargin=False),
    yaxis2=dict(overlaying="y", range=[0, 1], visible=False, fixedrange=True, automargin=False),
    shapes=shapes,
    annotations=annotations,
)

fig.write_html("out.html", config={"displayModeBar": False},
               post_script="document.body.style.margin='0';")
